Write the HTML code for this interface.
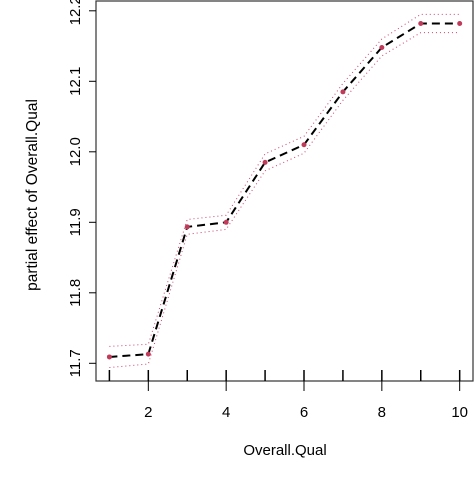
<!DOCTYPE html>
<html><head><meta charset="utf-8"><style>
html,body{margin:0;padding:0;background:#fff;}
svg{display:block;font-family:"Liberation Sans",Arial,sans-serif;}
</style></head><body>
<svg id="chart" width="474" height="478" viewBox="0 0 474 478">
<rect x="96" y="1" width="377" height="380" fill="none" stroke="#333" stroke-width="1.2"/>
<g id="yaxis"></g>
<g id="xaxis"></g>
<g id="rug"></g>
<g id="bands"></g>
<g id="series"></g>
<text x="285" y="455" font-size="15" text-anchor="middle">Overall.Qual</text>
<text transform="translate(37,195) rotate(-90)" font-size="15.5" text-anchor="middle">partial effect of Overall.Qual</text>
</svg>
<script>
const categories = [1,2,3,4,5,6,7,8,9,10];
const effect = [11.709,11.713,11.8935,11.9,11.985,12.01,12.085,12.148,12.182,12.182];
const upper = [11.724,11.727,11.904,11.91,11.997,12.022,12.097,12.16,12.195,12.195];
const lower = [11.694,11.699,11.883,11.89,11.973,11.998,12.073,12.136,12.169,12.169];
const yTicks = [11.7,11.8,11.9,12.0,12.1,12.2];
const yTickLabels = ["11.7","11.8","11.9","12.0","12.1","12.2"];
const xTicks = [2,4,6,8,10];
const xTickLabels = ["2","4","6","8","10"];

const NS="http://www.w3.org/2000/svg";
const X = v => 109.4 + (v-1)*38.92;
const Y = v => 363.3 - (v-11.7)*705;
function mk(tag, attrs, parent){const e=document.createElementNS(NS,tag);for(const k in attrs)e.setAttribute(k,attrs[k]);parent.appendChild(e);return e;}

const ya=document.getElementById('yaxis');
yTicks.forEach((t,i)=>{
  const l=mk('line',{x1:89,x2:96,y1:Y(t),y2:Y(t),stroke:'#000','stroke-width':1},ya);
  
  
  const tx=mk('text',{transform:`translate(80,${Y(t)}) rotate(-90)`,'font-size':15,'text-anchor':'middle'},ya);
  tx.textContent=yTickLabels[i];
  
  
});
const xa=document.getElementById('xaxis');
xTicks.forEach((t,i)=>{
  const l=mk('line',{x1:X(t),x2:X(t),y1:381,y2:391,stroke:'#000','stroke-width':1},xa);
  
  
  const tx=mk('text',{x:X(t),y:417,'font-size':15,'text-anchor':'middle'},xa);
  tx.textContent=xTickLabels[i];
  
  
});
const rug=document.getElementById('rug');
categories.forEach(c=>{
  const l=mk('line',{x1:X(c),x2:X(c),y1:370,y2:381,stroke:'#000','stroke-width':1.5},rug);
  
  
});
const bands=document.getElementById('bands');
[upper,lower].forEach((arr,j)=>{
  const p=mk('polyline',{points:arr.map((v,i)=>X(categories[i])+','+Y(v)).join(' '),fill:'none',stroke:'#d0406a','stroke-width':1,'stroke-dasharray':'1 3'},bands);
  
  
});
const ser=document.getElementById('series');
const pl=mk('polyline',{points:effect.map((v,i)=>X(categories[i])+','+Y(v)).join(' '),fill:'none',stroke:'#000','stroke-width':2,'stroke-dasharray':'8 5'},ser);


effect.forEach((v,i)=>{
  const c=mk('circle',{cx:X(categories[i]),cy:Y(v),r:2.5,fill:'#c03a5a'},ser);
  
  
});
</script>
</body></html>
